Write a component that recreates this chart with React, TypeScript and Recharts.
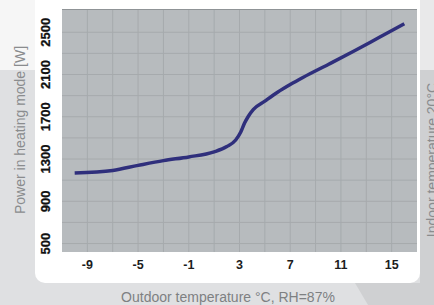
import { LineChart, Line, XAxis, YAxis, CartesianGrid } from 'recharts';

// Outdoor temperature (°C) vs power in heating mode (W)
const temps = [-10, -7, -5, -3, -1, 1, 2, 2.7, 3.1, 3.4, 3.7, 4.1, 5, 6, 7, 8, 10, 12, 14, 16];
const power = [1168, 1192, 1240, 1285, 1320, 1368, 1418, 1480, 1555, 1640, 1705, 1770, 1848, 1932, 2005, 2072, 2195, 2320, 2450, 2580];

const xTicks = [-9, -5, -1, 3, 7, 11, 15];
const yTicks = [500, 900, 1300, 1700, 2100, 2500];
const xGrid = [-9, -7, -5, -3, -1, 1, 3, 5, 7, 9, 11, 13, 15];
const yGrid = [500, 700, 900, 1100, 1300, 1500, 1700, 1900, 2100, 2300, 2500];

const data = temps.map((t, i) => ({ t, p: power[i] }));

const W = 434;
const H = 305;

function YTick(props: any) {
    const { y, payload } = props;
    return (
        <text
            x={46}
            y={y}
            transform={`rotate(-90, 46, ${y})`}
            textAnchor="middle"
            dominantBaseline="central"
            fontSize={13}
            fontWeight={700}
            fill="#111111"
            stroke="#111111"
            strokeWidth={0.3}
            fontFamily="Liberation Sans, Arial, sans-serif"
        >
            {payload.value}
        </text>
    );
}

function XTick(props: any) {
    const { x, payload } = props;
    return (
        <text
            x={x}
            y={265}
            textAnchor="middle"
            dominantBaseline="central"
            fontSize={12.5}
            fontWeight={700}
            fill="#1c1c1c"
            fontFamily="Liberation Sans, Arial, sans-serif"
        >
            {payload.value}
        </text>
    );
}

export default function App() {
    return (
        <div style={{ position: 'absolute', left: 0, top: 0, width: W, height: H, overflow: 'hidden', background: '#dfe0e2' }}>
            {/* backdrop pieces */}
            <div style={{ position: 'absolute', left: 0, top: 0, width: 36, height: 70, background: '#f6f6f6' }} />
            <div style={{ position: 'absolute', left: 420, top: 0, width: 14, height: 70, background: '#e9e9ea' }} />
            <div style={{ position: 'absolute', left: 420, top: 70, width: 14, height: 235, background: '#cfd0d2' }} />
            <div style={{ position: 'absolute', left: 0, top: 0, width: W, height: H, background: '#cfd0d2', clipPath: 'polygon(355px 283px, 434px 283px, 434px 305px, 368px 305px)' }} />
            <div style={{ position: 'absolute', left: 35, top: 0, width: 385, height: 283, background: '#ffffff', borderRadius: '0 0 10px 10px' }} />

            <div style={{ position: 'absolute', left: 0, top: 0 }}>
                <LineChart width={W} height={H} data={data} margin={{ top: 9, right: 17, bottom: 0, left: 0 }}>
                    <CartesianGrid
                        fill="#b7bbbe"
                        stroke="#a6aaad"
                        strokeWidth={1}
                        verticalValues={xGrid}
                        horizontalValues={yGrid}
                    />
                    <XAxis
                        type="number"
                        dataKey="t"
                        domain={[-11, 17]}
                        ticks={xTicks}
                        height={53}
                        axisLine={false}
                        tickLine={false}
                        tick={<XTick />}
                        interval={0}
                    />
                    <YAxis
                        type="number"
                        domain={[420, 2720]}
                        ticks={yTicks}
                        width={62}
                        axisLine={false}
                        tickLine={false}
                        tick={<YTick />}
                        interval={0}
                    />
                    <Line
                        type="monotone"
                        dataKey="p"
                        stroke="#2f2f7c"
                        strokeWidth={3.5}
                        dot={false}
                        isAnimationActive={false}
                    />
                </LineChart>
            </div>

            <div style={{ position: 'absolute', left: 62, top: 9, width: 355, height: 1, background: '#8f9396' }} />

            <div style={{
                position: 'absolute', left: 20, top: 130, transform: 'translate(-50%, -50%) rotate(-90deg)',
                whiteSpace: 'nowrap', fontFamily: 'Liberation Sans, Arial, sans-serif', fontSize: 14, color: '#8a8c8e',
            }}>
                Power in heating mode [W]
            </div>
            <div style={{
                position: 'absolute', left: 228, top: 297, transform: 'translate(-50%, -50%)',
                whiteSpace: 'nowrap', fontFamily: 'Liberation Sans, Arial, sans-serif', fontSize: 14, color: '#7e8082',
            }}>
                Outdoor temperature °C, RH=87%
            </div>
            <div style={{
                position: 'absolute', left: 432, top: 160, transform: 'translate(-50%, -50%) rotate(-90deg)',
                whiteSpace: 'nowrap', fontFamily: 'Liberation Sans, Arial, sans-serif', fontSize: 14, color: '#8a8c8e',
            }}>
                Indoor temperature 20°C
            </div>
        </div>
    );
}
